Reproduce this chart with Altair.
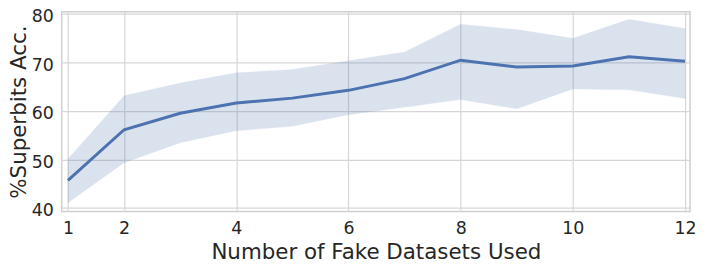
import altair as alt
import pandas as pd

n_datasets = [1, 2, 3, 4, 5, 6, 7, 8, 9, 10, 11, 12]
mean_acc = [45.7, 56.1, 59.5, 61.6, 62.6, 64.2, 66.6, 70.4, 69.0, 69.2, 71.1, 70.2]
upper_acc = [50.1, 63.1, 65.7, 67.8, 68.5, 70.3, 72.1, 77.8, 76.7, 74.9, 78.8, 76.9]
lower_acc = [41.1, 49.3, 53.4, 55.9, 56.8, 59.2, 60.7, 62.3, 60.4, 64.5, 64.3, 62.5]
x_ticks = [1, 2, 4, 6, 8, 10, 12]
y_ticks = [40, 50, 60, 70, 80]

df = pd.DataFrame({"n": n_datasets, "mean": mean_acc, "lo": lower_acc, "hi": upper_acc})

FONT = "DejaVu Sans"
TXT = "#262626"
BLUE = "#4c72b0"

xs = alt.Scale(domain=[0.888, 12.089], nice=False, zero=False)
ys = alt.Scale(domain=[39.27, 80.37], nice=False, zero=False)

xaxis = alt.Axis(values=x_ticks, title="Number of Fake Datasets Used", format="d",
                 grid=True, gridColor="#d6d6d6", gridWidth=1.2, domain=False, ticks=False,
                 labelFont=FONT, labelFontSize=17.5, labelColor=TXT, labelPadding=8,
                 titleFont=FONT, titleFontSize=21.5, titleColor=TXT, titleFontWeight="normal",
                 titlePadding=5)
yaxis = alt.Axis(values=y_ticks, title="%Superbits Acc.", format="d",
                 grid=True, gridColor="#d6d6d6", gridWidth=1.2, domain=False, ticks=False,
                 labelFont=FONT, labelFontSize=17.5, labelColor=TXT, labelPadding=8.5,
                 labelOffset=3,
                 titleFont=FONT, titleFontSize=21.5, titleColor=TXT, titleFontWeight="normal",
                 titleBaseline="alphabetic", titlePadding=6)

band = alt.Chart(df).mark_area(color=BLUE, opacity=0.2, stroke=BLUE, strokeOpacity=0.25,
                               strokeWidth=1).encode(
    x=alt.X("n:Q", scale=xs, axis=xaxis),
    y=alt.Y("lo:Q", scale=ys, axis=yaxis),
    y2="hi:Q",
)
line = alt.Chart(df).mark_line(color=BLUE, strokeWidth=3).encode(
    x=alt.X("n:Q", scale=xs),
    y=alt.Y("mean:Q", scale=ys),
)

chart = (band + line).properties(
    width=632, height=201,
    autosize=alt.AutoSizeParams(type="none"),
    padding={"left": 54, "top": 3, "right": 8, "bottom": 52},
    background="white",
).configure_view(stroke="#d0d0d0", strokeWidth=1.5)

chart.save("out.html", embed_options={"renderer": "svg", "actions": False})
